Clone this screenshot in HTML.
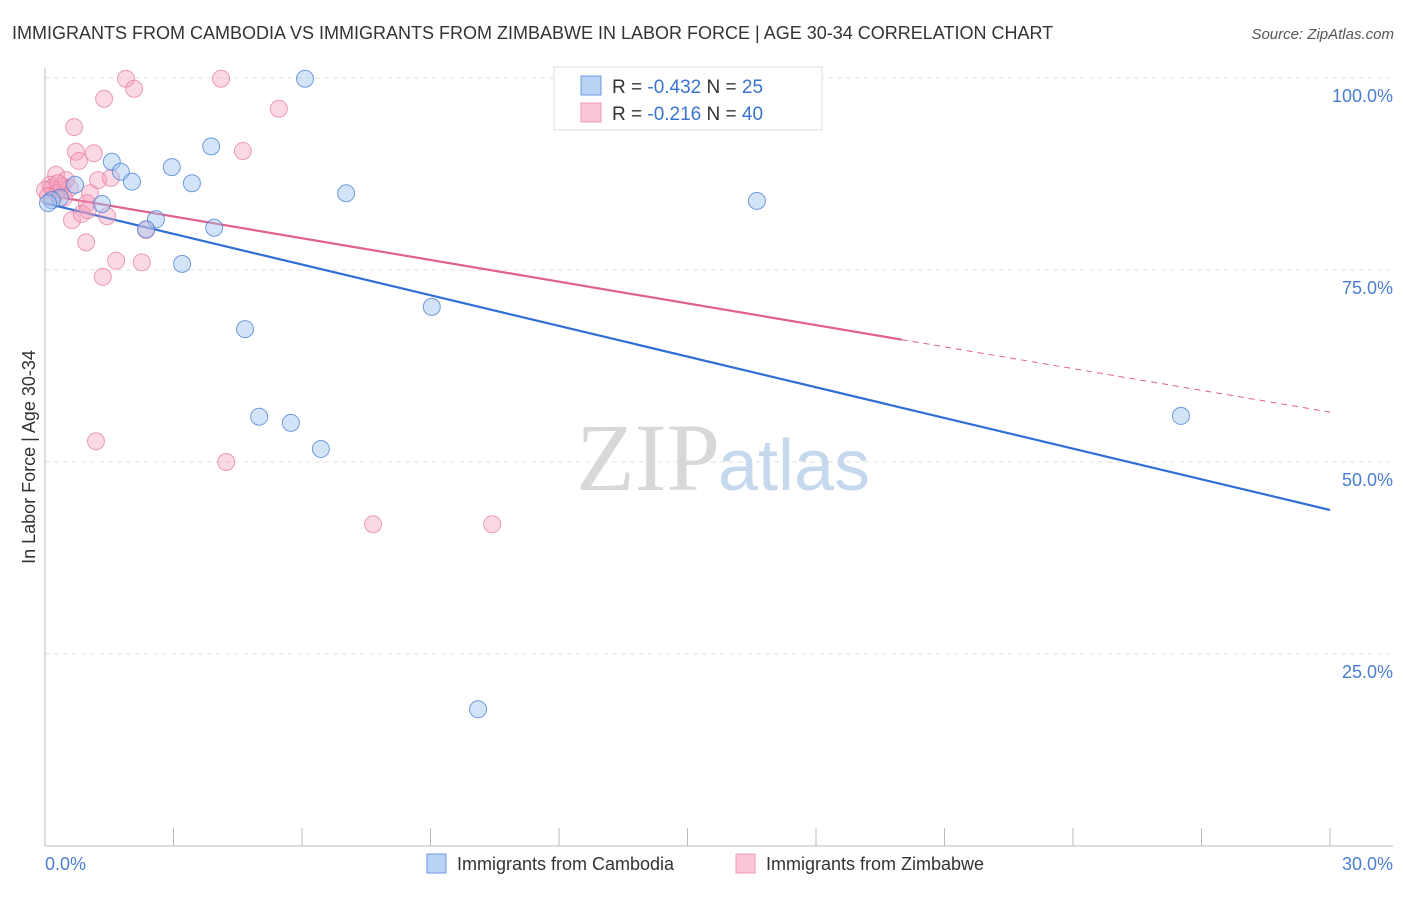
<!DOCTYPE html>
<html><head><meta charset="utf-8"><style>
body{margin:0;background:#fff;font-family:"Liberation Sans",sans-serif;}
</style></head><body>
<svg width="1406" height="892" xmlns="http://www.w3.org/2000/svg" style="font-family:'Liberation Sans',sans-serif">
<text x="12" y="39" font-size="18" fill="#333">IMMIGRANTS FROM CAMBODIA VS IMMIGRANTS FROM ZIMBABWE IN LABOR FORCE | AGE 30-34 CORRELATION CHART</text>
<text x="1394" y="39" font-size="15" fill="#555" font-style="italic" text-anchor="end">Source: ZipAtlas.com</text>
<g id="grid"></g>
<text x="720" y="490" font-size="96" fill="#d8d8d8" text-anchor="end" font-family="Liberation Serif">ZIP</text>
<text x="718" y="490" font-size="72" fill="#c6d8ee">atlas</text>
<g id="lines"></g>
<g id="pts"></g>
<text x="35" y="457" font-size="18" fill="#333" text-anchor="middle" transform="rotate(-90 35 457)">In Labor Force | Age 30-34</text>
<text x="45" y="870" font-size="18" fill="#4a7fd0">0.0%</text>
<text x="1393" y="870" font-size="18" fill="#4a7fd0" text-anchor="end">30.0%</text>
<g>
<rect x="554" y="67" width="268" height="63" fill="#fff" stroke="#ddd"/>
<rect x="581" y="76" width="20" height="19" fill="#b8d3f4" stroke="#6b9ae0"/>
<rect x="581" y="103" width="20" height="19" fill="#fbc6d6" stroke="#eb9ab4"/>
<text x="612" y="93" font-size="19" fill="#333">R = <tspan fill="#3a74d0">-0.432</tspan>   N = <tspan fill="#3a74d0">25</tspan></text>
<text x="612" y="120" font-size="19" fill="#333">R = <tspan fill="#3a74d0"> -0.216</tspan>   N = <tspan fill="#3a74d0">40</tspan></text>
</g>
<g>
<rect x="427" y="854" width="19" height="19" fill="#b8d3f4" stroke="#6b9ae0"/>
<text x="457" y="870" font-size="18" fill="#333">Immigrants from Cambodia</text>
<rect x="736" y="854" width="19" height="19" fill="#fbc6d6" stroke="#eb9ab4"/>
<text x="766" y="870" font-size="18" fill="#333">Immigrants from Zimbabwe</text>
</g>
</svg>
<script>
const yTicks=[25,50,75,100];
const yTickLabels=["25.0%","50.0%","75.0%","100.0%"];
const xTicks=[0,3,6,9,12,15,18,21,24,27,30];
const camX=[6.07,3.88,1.56,2.96,1.77,2.03,3.43,7.03,16.62,1.33,0.35,0.16,2.59,2.36,3.95,3.20,9.03,4.67,5.00,5.74,26.52,6.44,10.11,0.70,0.07];
const camY=[99.9,91.1,89.1,88.4,87.8,86.5,86.3,85.0,84.0,83.6,84.4,84.1,81.6,80.3,80.5,75.8,70.2,67.3,55.9,55.1,56.0,51.7,17.8,86.1,83.7];
const zimX=[1.89,4.11,16.58,2.08,1.38,5.46,0.68,0.72,1.14,4.62,0.79,0.26,0.49,1.24,1.54,0.16,0.35,1.05,0.98,1.45,0.63,0.86,0.96,1.66,2.26,1.35,1.19,4.23,7.66,10.44,2.36,0.12,0.40,0.26,0.58,0.44,1.00,0,0.30,0.07];
const zimY=[99.9,99.9,99.7,98.6,97.3,96.0,93.6,90.4,90.2,90.5,89.2,87.4,86.7,86.7,87.0,85.7,85.4,85.0,83.7,82.0,81.5,82.3,78.6,76.2,76.0,74.1,52.7,50.0,41.9,41.9,80.2,86.1,85.9,85.0,85.7,84.4,82.8,85.4,86.3,84.6];
const camTrend=[83.7,43.75];
const zimTrend=[84.8,56.5];
const zimSolidEnd=20;
const NS="http://www.w3.org/2000/svg";
const X=v=>45+v/30*1285, Y=v=>846-v/100*768;
function mk(tag,at,parent){const e=document.createElementNS(NS,tag);for(const k in at)e.setAttribute(k,at[k]);parent.appendChild(e);return e;}
const grid=document.getElementById('grid');
yTicks.forEach((t,i)=>{
 const l=mk('line',{x1:45,x2:1393,y1:Y(t),y2:Y(t),stroke:'#e2e2e2','stroke-dasharray':'5,4'},grid);
 
 
 const tx=mk('text',{x:1393,y:Y(t)+24,'font-size':18,fill:'#4a7fd0','text-anchor':'end'},grid);
 tx.textContent=yTickLabels[i];
 
 
});
let ax=mk('line',{x1:45,x2:45,y1:68,y2:846,stroke:'#bbb'},grid);


ax=mk('line',{x1:45,x2:1393,y1:846,y2:846,stroke:'#bbb'},grid);


xTicks.forEach(t=>{const l=mk('line',{x1:X(t),x2:X(t),y1:828,y2:846,stroke:'#bbb'},grid);
 
 });
const lines=document.getElementById('lines');
let ln=mk('line',{x1:X(0),y1:Y(camTrend[0]),x2:X(30),y2:Y(camTrend[1]),stroke:'#2f6fd6','stroke-width':2.2},lines);


const zAt=x=>zimTrend[0]+(zimTrend[1]-zimTrend[0])*x/30;
ln=mk('line',{x1:X(0),y1:Y(zAt(0)),x2:X(zimSolidEnd),y2:Y(zAt(zimSolidEnd)),stroke:'#e0608e','stroke-width':2.2},lines);


ln=mk('line',{x1:X(zimSolidEnd),y1:Y(zAt(zimSolidEnd)),x2:X(30),y2:Y(zAt(30)),stroke:'#e0608e','stroke-width':1,'stroke-dasharray':'6,5'},lines);


const pts=document.getElementById('pts');
zimX.forEach((x,i)=>{const c=mk('circle',{cx:X(x),cy:Y(zimY[i]),r:8.5,fill:'rgba(244,160,188,0.4)',stroke:'rgba(230,120,160,0.7)','stroke-width':1},pts);
 
 });
camX.forEach((x,i)=>{const c=mk('circle',{cx:X(x),cy:Y(camY[i]),r:8.5,fill:'rgba(160,195,240,0.45)',stroke:'rgba(70,125,210,0.75)','stroke-width':1},pts);
 
 });
</script>
</body></html>
